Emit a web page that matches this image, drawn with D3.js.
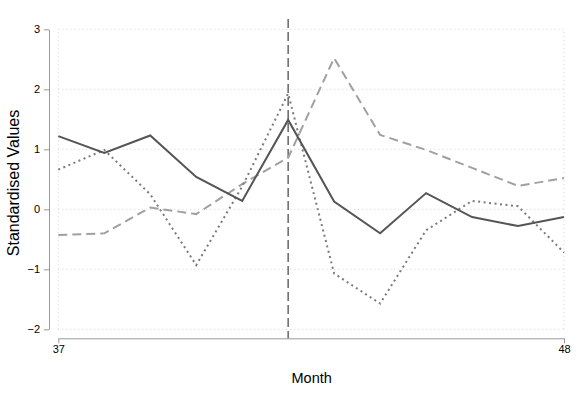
<!DOCTYPE html>
<html>
<head>
<meta charset="utf-8">
<script src="https://cdn.jsdelivr.net/npm/d3@7"></script>
<style>
body { margin: 0; background: #fff; }
svg { font-family: "Liberation Sans", Arial, sans-serif; }
</style>
</head>
<body>
<svg id="chart" width="581" height="399"></svg>
<script>
var months = [37, 38, 39, 40, 41, 42, 43, 44, 45, 46, 47, 48];
var series_solid = [1.22, 0.94, 1.23, 0.54, 0.14, 1.49, 0.13, -0.40, 0.27, -0.13, -0.28, -0.13];
var series_dashed = [-0.43, -0.40, 0.03, -0.08, 0.42, 0.86, 2.52, 1.24, 0.99, 0.69, 0.39, 0.52];
var series_dotted = [0.66, 0.99, 0.25, -0.93, 0.38, 1.93, -1.07, -1.57, -0.35, 0.14, 0.05, -0.72];
var x_ticks = [37, 48];
var y_ticks = [-2, -1, 0, 1, 2, 3];
var event_month = 42;

draw_chart();

function draw_chart(){
    var svg = d3.select('#chart');
    var padding = {top: 29.3, left: 58.3, right: 17, bottom: 69.7};
    var width = 581, height = 399;

    var x_scale = d3.scaleLinear()
	.domain([37, 48])
	.range([padding.left, width - padding.right]);
    var y_scale = d3.scaleLinear()
	.domain([-2, 3])
	.range([height - padding.bottom, padding.top]);

    // grid
    var grid = svg.append('g');
    grid.selectAll('.hgrid')
	.data(y_ticks)
	.enter()
	.append('line')
	.attr('x1', x_scale(37)).attr('x2', x_scale(48))
	.attr('y1', function(d){return y_scale(d)})
	.attr('y2', function(d){return y_scale(d)})
	.attr('stroke', '#d0d0d0').attr('stroke-width', 1)
	.attr('stroke-dasharray', '1,3');
    grid.selectAll('.vgrid')
	.data(x_ticks)
	.enter()
	.append('line')
	.attr('x1', function(d){return x_scale(d)})
	.attr('x2', function(d){return x_scale(d)})
	.attr('y1', y_scale(-2)).attr('y2', y_scale(3))
	.attr('stroke', '#d0d0d0').attr('stroke-width', 1)
	.attr('stroke-dasharray', '1,3');

    // axes
    var y_axis = svg.append('g')
	.attr('transform', 'translate(49, 0)')
	.call(d3.axisLeft(y_scale).tickValues(y_ticks).tickFormat(d3.format('d'))
	      .tickSize(5).tickPadding(4).tickSizeOuter(0));
    var x_axis = svg.append('g')
	.attr('transform', 'translate(0, 338.3)')
	.call(d3.axisBottom(x_scale).tickValues(x_ticks).tickFormat(d3.format('d'))
	      .tickSize(5).tickPadding(2).tickSizeOuter(0));
    [x_axis, y_axis].forEach(function(a){
	a.select('.domain').attr('stroke', '#999');
	a.selectAll('.tick line').attr('stroke', '#999');
	a.selectAll('.tick text').attr('fill', '#000').style('font-size', '11px')
	    .style('font-family', '"Liberation Sans", Arial, sans-serif');
    });

    // event line
    svg.append('line')
	.attr('x1', x_scale(event_month)).attr('x2', x_scale(event_month))
	.attr('y1', 19).attr('y2', 338.3)
	.attr('stroke', '#666').attr('stroke-width', 1.5)
	.attr('stroke-dasharray', '9,4');

    var line = function(vals){
	return d3.line()
	    .x(function(d, i){return x_scale(months[i])})
	    .y(function(d){return y_scale(d)})(vals);
    };

    svg.append('path').attr('d', line(series_dashed))
	.attr('fill', 'none').attr('stroke', '#a0a0a0').attr('stroke-width', 2)
	.attr('stroke-dasharray', '9,5');
    svg.append('path').attr('d', line(series_dotted))
	.attr('fill', 'none').attr('stroke', '#7a7a7a').attr('stroke-width', 2)
	.attr('stroke-dasharray', '2,3.5');
    svg.append('path').attr('d', line(series_solid))
	.attr('fill', 'none').attr('stroke', '#555').attr('stroke-width', 2);

    // titles
    svg.append('text')
	.attr('x', (x_scale(37) + x_scale(48)) / 2 + 0.5)
	.attr('y', 383)
	.attr('text-anchor', 'middle')
	.style('font-size', '14.5px')
	.text('Month');
    svg.append('text')
	.attr('transform', 'translate(18.5, 183) rotate(-90)')
	.attr('text-anchor', 'middle')
	.style('font-size', '16px')
	.text('Standardised Values');
}
</script>
</body>
</html>
